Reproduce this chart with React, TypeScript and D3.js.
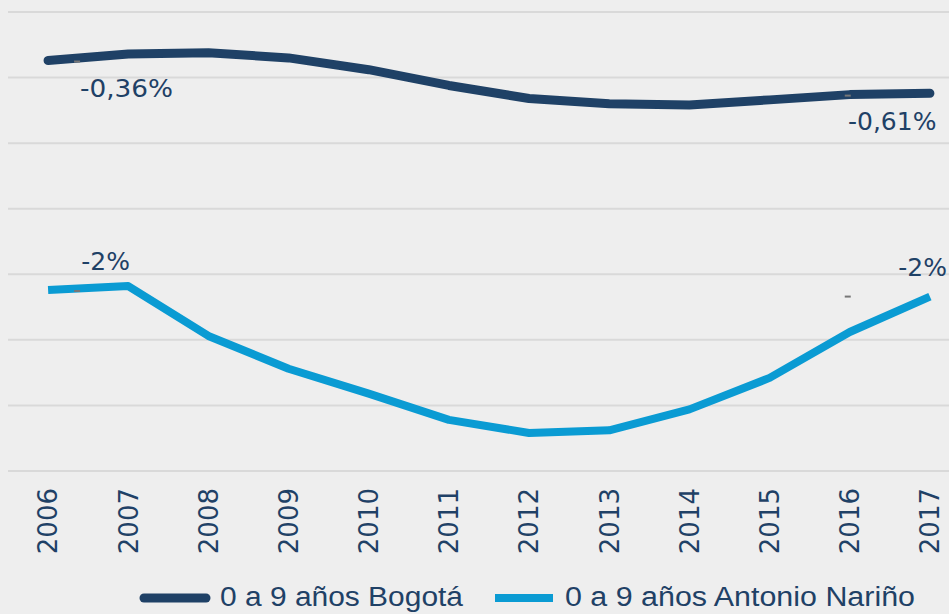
import React from "react";
import * as d3 from "d3";

// Years on the x axis
const years = ["2006", "2007", "2008", "2009", "2010", "2011", "2012", "2013", "2014", "2015", "2016", "2017"];

// Growth rates (%)
const bogota = [-0.37, -0.32, -0.31, -0.35, -0.44, -0.56, -0.66, -0.7, -0.71, -0.67, -0.63, -0.62];
const narino = [-2.12, -2.09, -2.47, -2.72, -2.91, -3.11, -3.21, -3.19, -3.03, -2.79, -2.44, -2.17];

// Horizontal gridline values
const gridValues = [0, -0.5, -1, -1.5, -2, -2.5, -3, -3.5];

const seriesNames = ["0 a 9 años Bogotá", "0 a 9 años Antonio Nariño"];
const colors = ["#1f4166", "#0a9bd3"];

const W = 949;
const H = 614;
const FONT = "'DejaVu Sans', 'Open Sans', sans-serif";

export default function App() {
  const x = d3.scaleBand<string>().domain(years).range([8, 970]);
  const y = d3.scaleLinear().domain([-3.5, 0]).range([471, 12]);
  const cx = (d: string) => (x(d) || 0) + x.bandwidth() / 2;

  const line = d3
    .line<number>()
    .x((_, i) => cx(years[i]))
    .y((v) => y(v))
    .curve(d3.curveLinear);

  const last = years.length - 1;

  return (
    <svg
      width={W}
      height={H}
      style={{ position: "absolute", left: 0, top: 0, display: "block", background: "#eeeeee" }}
    >
      <rect width={W} height={H} fill="#eeeeee" />

      {/* grid */}
      {gridValues.map((g) => (
        <line key={g} x1={8} x2={W} y1={y(g)} y2={y(g)} stroke="#d9d9d9" strokeWidth={2} />
      ))}

      {/* lines */}
      <path d={line(bogota) || ""} fill="none" stroke={colors[0]} strokeWidth={9} strokeLinecap="round" strokeLinejoin="round" />
      <path d={line(narino) || ""} fill="none" stroke={colors[1]} strokeWidth={8} strokeLinejoin="round" />

      {/* small leader dashes */}
      {[
        [years[0], bogota[0]],
        [years[0], narino[0]],
        [years[last - 1], bogota[last - 1]],
        [years[last - 1], narino[last]],
      ].map(([yr, v], i) => {
        const px = i < 2 ? cx(yr as string) + 29 : cx(yr as string) - 2;
        return (
          <line
            key={i}
            x1={px - 3}
            x2={px + 3}
            y1={y(v as number) + (i === 3 ? 0 : 1)}
            y2={y(v as number) + (i === 3 ? 0 : 1)}
            stroke="#777"
            strokeWidth={2}
          />
        );
      })}

      {/* data labels */}
      <g fontFamily={FONT} fontSize={25} fill={colors[0]}>
        <text x={80} y={y(bogota[0]) + 36.5} textLength={93} lengthAdjust="spacingAndGlyphs">-0,36%</text>
        <text x={cx(years[last]) + 6.5} y={y(bogota[last]) + 37} textAnchor="end">-0,61%</text>
        <text x={cx(years[1]) - 47} y={y(narino[1]) - 16}>-2%</text>
        <text x={W - 2} y={y(narino[last]) - 20.5} textAnchor="end">-2%</text>
      </g>

      {/* x axis labels */}
      <g fontFamily={FONT} fontSize={26} fill={colors[0]}>
        {years.map((yr) => (
          <text key={yr} transform={`translate(${cx(yr)},488) rotate(-90)`} textAnchor="end" dy="0.36em">
            {yr}
          </text>
        ))}
      </g>

      {/* legend */}
      <g fontFamily="'Liberation Sans', sans-serif" fontSize={27} fill={colors[0]}>
        <line x1={144} x2={206} y1={598} y2={598} stroke={colors[0]} strokeWidth={9} strokeLinecap="round" />
        <text x={220} y={606} textLength={243} lengthAdjust="spacingAndGlyphs">{seriesNames[0]}</text>
        <line x1={495} x2={553} y1={598} y2={598} stroke={colors[1]} strokeWidth={8} />
        <text x={565} y={606} textLength={350} lengthAdjust="spacingAndGlyphs">{seriesNames[1]}</text>
      </g>
    </svg>
  );
}
